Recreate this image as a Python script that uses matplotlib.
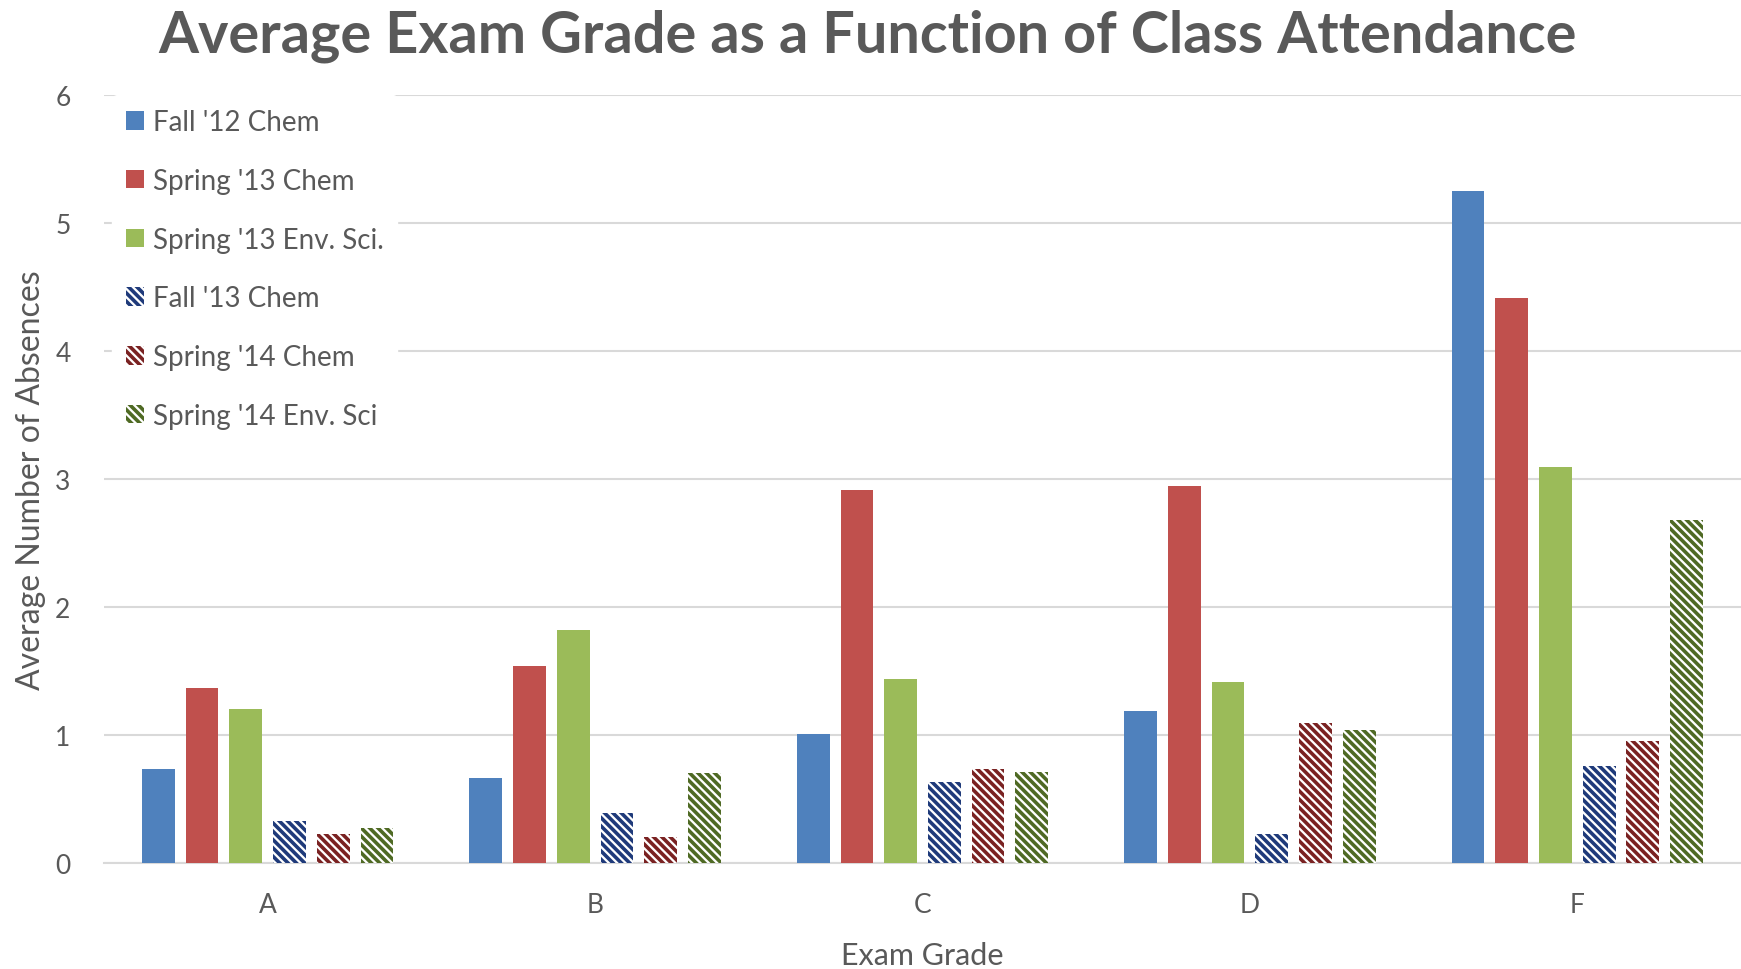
import matplotlib
matplotlib.use("Agg")
import matplotlib.pyplot as plt
import numpy as np
from matplotlib.patches import Patch

categories = ["A", "B", "C", "D", "F"]
series_names = ["Fall '12 Chem", "Spring '13 Chem", "Spring '13 Env. Sci.",
                "Fall '13 Chem", "Spring '14 Chem", "Spring '14 Env. Sci"]
fall12_chem = [0.73, 0.66, 1.01, 1.19, 5.25]
spring13_chem = [1.37, 1.54, 2.91, 2.94, 4.41]
spring13_env = [1.20, 1.82, 1.44, 1.41, 3.09]
fall13_chem = [0.33, 0.39, 0.63, 0.23, 0.76]
spring14_chem = [0.23, 0.20, 0.73, 1.09, 0.95]
spring14_env = [0.27, 0.70, 0.71, 1.04, 2.68]
yticks = [0, 1, 2, 3, 4, 5, 6]

values = [fall12_chem, spring13_chem, spring13_env, fall13_chem, spring14_chem, spring14_env]
colors = ["#4F81BD", "#C0504D", "#9BBB59", "#1F3A7A", "#7A2222", "#4F6A24"]
hatched = [False, False, False, True, True, True]

plt.rcParams['font.family'] = ['Lato', 'DejaVu Sans']
plt.rcParams['hatch.linewidth'] = 2.6
text_color = "#595959"
HATCH = "\\" * 4

fig = plt.figure(figsize=(17.41, 9.70), dpi=100)
ax = fig.add_axes([0.0597, 0.1093, 0.9403, 0.7922])

x = np.arange(len(categories))
slot = 0.1335
width = 0.10
handles = []
for i, (vals, c, h) in enumerate(zip(values, colors, hatched)):
    pos = x + (i - 2.5) * slot
    if h:
        ax.bar(pos, vals, width, facecolor="white", edgecolor=c, hatch=HATCH,
               linewidth=0, zorder=3)
        handles.append(Patch(facecolor="white", edgecolor=c, hatch=HATCH, linewidth=0,
                             label=series_names[i]))
    else:
        ax.bar(pos, vals, width, color=c, linewidth=0, zorder=3)
        handles.append(Patch(facecolor=c, edgecolor=c, linewidth=0, label=series_names[i]))

ax.set_xlim(-0.5, len(categories) - 0.5)
ax.set_ylim(0, 6)
ax.set_yticks(yticks)
ax.set_xticks(x)
ax.set_xticklabels(categories)
ax.yaxis.grid(True, color="#D9D9D9", linewidth=1.5, zorder=0)
ax.set_axisbelow(True)
for s in ["top", "right", "left"]:
    ax.spines[s].set_visible(False)
ax.spines["bottom"].set_color("#D9D9D9")
ax.spines["bottom"].set_linewidth(1.5)
ax.spines["bottom"].set_zorder(2)
ax.tick_params(axis="both", length=0, labelsize=19, labelcolor=text_color)
ax.tick_params(axis="y", pad=24)
ax.tick_params(axis="x", pad=21)

ax.set_xlabel("Exam Grade", fontsize=22, color=text_color, labelpad=17)
ax.set_ylabel("Average Number of Absences", fontsize=23, color=text_color, labelpad=7)

leg = ax.legend(handles=handles, loc="upper left", bbox_to_anchor=(0.0, 1.01),
                frameon=True, fontsize=20, labelcolor=text_color,
                handlelength=0.65, handleheight=0.65, handletextpad=0.3,
                labelspacing=1.18, borderpad=0.5, borderaxespad=0.3)
leg.get_frame().set_facecolor("white")
leg.get_frame().set_edgecolor("white")
leg.get_frame().set_alpha(1.0)
leg.set_zorder(5)

fig.text(0.4985, 0.963, "Average Exam Grade as a Function of Class Attendance",
         ha="center", va="center", fontsize=41.5, fontweight="bold", color=text_color)

fig.savefig("out.png", dpi=100, facecolor="white")
